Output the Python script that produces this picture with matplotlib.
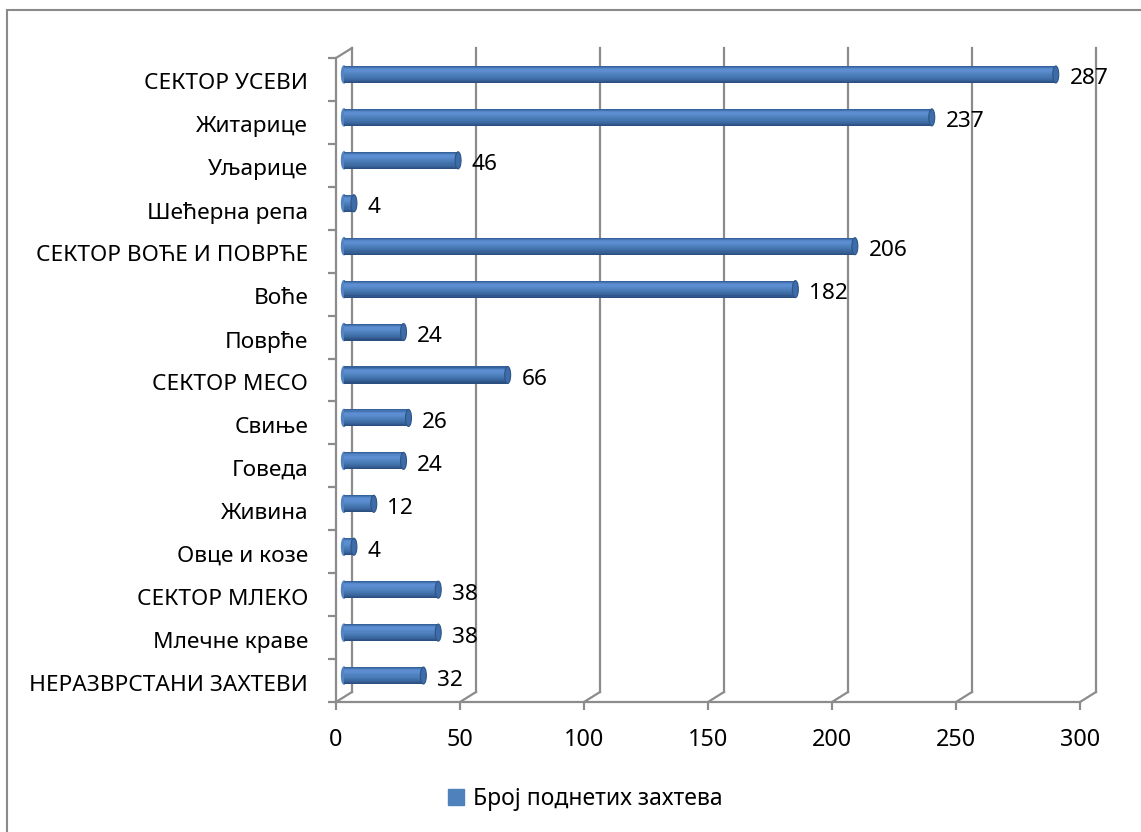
import numpy as np
import matplotlib
matplotlib.use("Agg")
import matplotlib.pyplot as plt
from matplotlib.colors import LinearSegmentedColormap
from matplotlib.patches import Ellipse, Patch, Rectangle
from matplotlib.transforms import ScaledTranslation

plt.rcParams["font.family"] = ["Noto Sans", "DejaVu Sans"]

# ── data ──────────────────────────────────────────────────────────────────────
categories = [
    "СЕКТОР УСЕВИ", "Житарице", "Уљарице", "Шећерна репа",
    "СЕКТОР ВОЋЕ И ПОВРЋЕ", "Воће", "Поврће", "СЕКТОР МЕСО",
    "Свиње", "Говеда", "Живина", "Овце и козе",
    "СЕКТОР МЛЕКО", "Млечне краве", "НЕРАЗВРСТАНИ ЗАХТЕВИ",
]
values = [287, 237, 46, 4, 206, 182, 24, 66, 26, 24, 12, 4, 38, 38, 32]
x_ticks = [0, 50, 100, 150, 200, 250, 300]
series_name = "Број поднетих захтева"

# ── layout (pixels of the 1141x832 canvas) ────────────────────────────────────
W, H, DPI = 1141, 832, 100
front_left, front_right = 336, 1080
front_top, front_bottom = 58, 702
depth_px = (16, 10)            # back wall shift: right, up
grid_col = "#8c8c8c"
bar_col = "#4f81bd"
fs = 16.3

fig = plt.figure(figsize=(W / DPI, H / DPI), dpi=DPI)
ax = fig.add_axes([
    front_left / W, 1 - front_bottom / H,
    (front_right - front_left) / W, (front_bottom - front_top) / H,
])
n = len(categories)
xmax = x_ticks[-1]
ax.set_xlim(0, xmax)
ax.set_ylim(n, 0)
for s in ax.spines.values():
    s.set_visible(False)

# depth offset in data units
px_x = xmax / (front_right - front_left)
px_y = n / (front_bottom - front_top)
dx, dy = depth_px[0] * px_x, depth_px[1] * px_y

# back wall gridlines + floor diagonals
for xv in x_ticks:
    ax.plot([xv + dx, xv + dx], [n - dy, -dy], color=grid_col, lw=1.6,
            clip_on=False, zorder=1)
    ax.plot([xv, xv + dx], [n, n - dy], color=grid_col, lw=1.6,
            clip_on=False, zorder=1)
# left wall front edge and top diagonal
ax.plot([0, 0], [n, 0], color=grid_col, lw=1.6, clip_on=False, zorder=1)
ax.plot([0, dx], [0, -dy], color=grid_col, lw=1.6, clip_on=False, zorder=1)
# floor front edge
ax.plot([0, xmax], [n, n], color=grid_col, lw=1.6, clip_on=False, zorder=1)

# ── cylinder bars ─────────────────────────────────────────────────────────────
cyl = LinearSegmentedColormap.from_list(
    "cyl", ["#36629c", "#5d8fd2", "#5a8ccf", "#4f81bd", "#4475b0",
            "#3a669d", "#2b4f80"])
bh = 17 * px_y
strips = 16
bx, by = dx / 2, dy / 2
centers = np.arange(n) + 0.5 - by
for i, v in enumerate(values):
    c = centers[i]
    ax.add_patch(Ellipse((bx, c), 2.0, bh, color=cyl(0.45), zorder=2))
    for k in range(strips):
        top = c - bh / 2 + k * bh / strips
        ax.barh(top + bh / strips / 2, v, height=bh / strips * 1.08, left=bx,
                color=cyl(k / (strips - 1)), linewidth=0, zorder=3)
    ax.add_patch(Ellipse((v + bx, c), 2.4, bh, facecolor="#3d6ca8",
                         edgecolor="#2c5588", lw=0.8, zorder=4))
    ax.text(v + bx + 5.5, c + 2 * px_y, str(v), ha="left",
            va="center_baseline", fontsize=fs, color="black", zorder=5)

# ── axes ticks and labels ─────────────────────────────────────────────────────
ax.set_xticks(x_ticks)
ax.set_xticklabels([str(t) for t in x_ticks], fontsize=fs + 0.5)
ax.tick_params(axis="x", direction="out", length=6, width=1.6,
               color=grid_col, pad=13)
ax.set_yticks(np.arange(n) + 0.5)
ax.set_yticklabels(categories, fontsize=fs)
ax.tick_params(axis="y", length=0, pad=20)
shift = ScaledTranslation(0, -2 / DPI, fig.dpi_scale_trans)
for lbl in ax.get_yticklabels():
    lbl.set_transform(lbl.get_transform() + shift)
ax.set_yticks(np.arange(n + 1), minor=True)
ax.tick_params(axis="y", which="minor", direction="out", length=6,
               width=1.6, color=grid_col)
ax.tick_params(axis="x", which="minor", length=0)

# ── legend ────────────────────────────────────────────────────────────────────
fig.legend(handles=[Patch(color=bar_col, label=series_name)],
           loc="center", bbox_to_anchor=(585 / W, 1 - 799 / H),
           frameon=False, fontsize=16.5, handlelength=0.7, handleheight=0.7,
           handletextpad=0.4)

# chart frame (extends past right and bottom edges)
fig.add_artist(Rectangle((7 / W, -0.1), 1.2, 1.1 - 10 / H,
                         transform=fig.transFigure, fill=False,
                         edgecolor="#8a8a8a", lw=1.5))

fig.savefig("out.png", dpi=DPI)
